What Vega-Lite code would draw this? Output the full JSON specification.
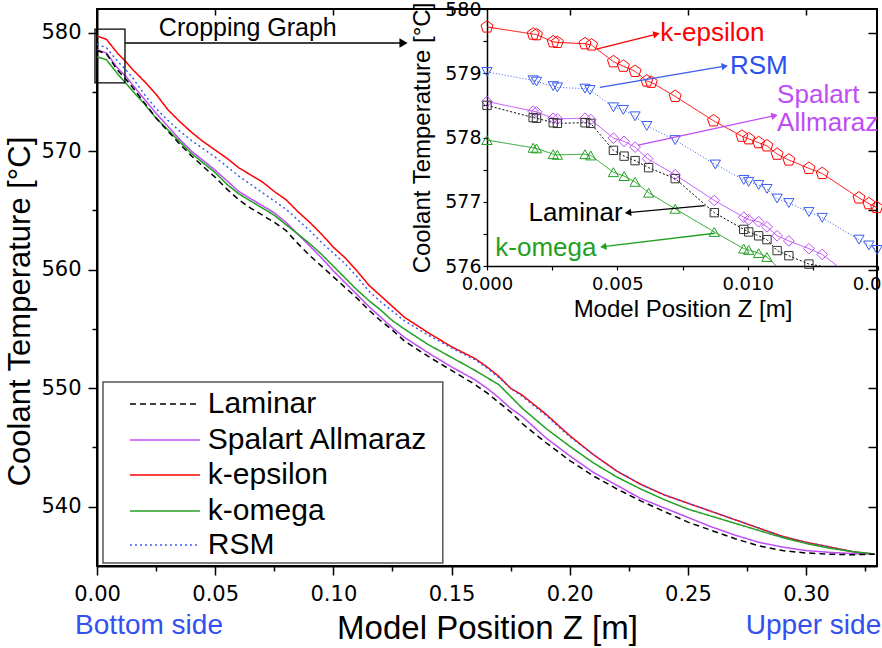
{
"$schema":"https://vega.github.io/schema/vega-lite/v6.json",
"width":780,"height":557,
"autosize":"none",
"padding":{"left":97,"top":9,"right":5,"bottom":82},
"config":{"view":{"stroke":"black","strokeWidth":2},"axis":{"domainColor":"black","tickColor":"black","labelColor":"black","titleColor":"black","grid":false,"labelFont":"DejaVu Sans","titleFont":"Liberation Sans","titleFontWeight":"normal"},"text":{"font":"Liberation Sans"}},
"datasets":{
"main":[
{"s":"k-epsilon","x":0,"y":579.72},{"s":"k-epsilon","x":0.004,"y":579.44},{"s":"k-epsilon","x":0.0087,"y":578.26},{"s":"k-epsilon","x":0.0124,"y":577.52},{"s":"k-epsilon","x":0.015,"y":576.91},{"s":"k-epsilon","x":0.02,"y":575.9},{"s":"k-epsilon","x":0.025,"y":574.8},{"s":"k-epsilon","x":0.03,"y":573.5},{"s":"k-epsilon","x":0.035,"y":572.5},{"s":"k-epsilon","x":0.04,"y":571.6},{"s":"k-epsilon","x":0.045,"y":570.8},{"s":"k-epsilon","x":0.05,"y":570.1},{"s":"k-epsilon","x":0.055,"y":569.4},{"s":"k-epsilon","x":0.06,"y":568.6},{"s":"k-epsilon","x":0.065,"y":568.0},{"s":"k-epsilon","x":0.07,"y":567.4},{"s":"k-epsilon","x":0.075,"y":566.6},{"s":"k-epsilon","x":0.08,"y":565.9},{"s":"k-epsilon","x":0.085,"y":564.9},{"s":"k-epsilon","x":0.09,"y":564.0},{"s":"k-epsilon","x":0.095,"y":563.0},{"s":"k-epsilon","x":0.1,"y":561.9},{"s":"k-epsilon","x":0.105,"y":561.0},{"s":"k-epsilon","x":0.11,"y":559.9},{"s":"k-epsilon","x":0.115,"y":558.7},{"s":"k-epsilon","x":0.12,"y":557.8},{"s":"k-epsilon","x":0.125,"y":556.9},{"s":"k-epsilon","x":0.13,"y":556.0},{"s":"k-epsilon","x":0.14,"y":554.7},{"s":"k-epsilon","x":0.15,"y":553.5},{"s":"k-epsilon","x":0.16,"y":552.5},{"s":"k-epsilon","x":0.165,"y":551.8},{"s":"k-epsilon","x":0.17,"y":551.0},{"s":"k-epsilon","x":0.175,"y":550.0},{"s":"k-epsilon","x":0.18,"y":549.4},{"s":"k-epsilon","x":0.19,"y":547.8},{"s":"k-epsilon","x":0.2,"y":546.0},{"s":"k-epsilon","x":0.21,"y":544.4},{"s":"k-epsilon","x":0.22,"y":543.0},{"s":"k-epsilon","x":0.23,"y":541.9},{"s":"k-epsilon","x":0.24,"y":541.0},{"s":"k-epsilon","x":0.25,"y":540.3},{"s":"k-epsilon","x":0.26,"y":539.6},{"s":"k-epsilon","x":0.27,"y":538.9},{"s":"k-epsilon","x":0.28,"y":538.2},{"s":"k-epsilon","x":0.29,"y":537.5},{"s":"k-epsilon","x":0.3,"y":537.0},{"s":"k-epsilon","x":0.31,"y":536.6},{"s":"k-epsilon","x":0.32,"y":536.2},{"s":"k-epsilon","x":0.329,"y":536.0},
{"s":"RSM","x":0,"y":579.02},{"s":"RSM","x":0.004,"y":578.74},{"s":"RSM","x":0.0087,"y":577.58},{"s":"RSM","x":0.0124,"y":576.84},{"s":"RSM","x":0.015,"y":576.22},{"s":"RSM","x":0.02,"y":574.8},{"s":"RSM","x":0.025,"y":573.6},{"s":"RSM","x":0.03,"y":572.6},{"s":"RSM","x":0.035,"y":571.7},{"s":"RSM","x":0.04,"y":570.9},{"s":"RSM","x":0.045,"y":570.2},{"s":"RSM","x":0.05,"y":569.5},{"s":"RSM","x":0.055,"y":568.7},{"s":"RSM","x":0.06,"y":567.9},{"s":"RSM","x":0.065,"y":567.2},{"s":"RSM","x":0.07,"y":566.5},{"s":"RSM","x":0.075,"y":565.8},{"s":"RSM","x":0.08,"y":565.1},{"s":"RSM","x":0.085,"y":564.2},{"s":"RSM","x":0.09,"y":563.3},{"s":"RSM","x":0.095,"y":562.3},{"s":"RSM","x":0.1,"y":561.4},{"s":"RSM","x":0.105,"y":560.5},{"s":"RSM","x":0.11,"y":559.4},{"s":"RSM","x":0.115,"y":558.2},{"s":"RSM","x":0.12,"y":557.3},{"s":"RSM","x":0.125,"y":556.5},{"s":"RSM","x":0.13,"y":555.7},{"s":"RSM","x":0.14,"y":554.5},{"s":"RSM","x":0.15,"y":553.4},{"s":"RSM","x":0.16,"y":552.4},{"s":"RSM","x":0.165,"y":551.7},{"s":"RSM","x":0.17,"y":550.9},{"s":"RSM","x":0.175,"y":550.0},{"s":"RSM","x":0.18,"y":549.3},{"s":"RSM","x":0.19,"y":547.7},{"s":"RSM","x":0.2,"y":545.9},{"s":"RSM","x":0.21,"y":544.4},{"s":"RSM","x":0.22,"y":543.0},{"s":"RSM","x":0.23,"y":541.9},{"s":"RSM","x":0.24,"y":541.0},{"s":"RSM","x":0.25,"y":540.3},{"s":"RSM","x":0.26,"y":539.6},{"s":"RSM","x":0.27,"y":538.9},{"s":"RSM","x":0.28,"y":538.2},{"s":"RSM","x":0.29,"y":537.5},{"s":"RSM","x":0.3,"y":537.0},{"s":"RSM","x":0.31,"y":536.6},{"s":"RSM","x":0.32,"y":536.2},{"s":"RSM","x":0.329,"y":536.0},
{"s":"Spalart Allmaraz","x":0,"y":578.56},{"s":"Spalart Allmaraz","x":0.004,"y":578.28},{"s":"Spalart Allmaraz","x":0.0087,"y":577.02},{"s":"Spalart Allmaraz","x":0.0124,"y":576.27},{"s":"Spalart Allmaraz","x":0.015,"y":575.6},{"s":"Spalart Allmaraz","x":0.02,"y":574.4},{"s":"Spalart Allmaraz","x":0.025,"y":573.2},{"s":"Spalart Allmaraz","x":0.03,"y":572.1},{"s":"Spalart Allmaraz","x":0.035,"y":571.0},{"s":"Spalart Allmaraz","x":0.04,"y":570.0},{"s":"Spalart Allmaraz","x":0.045,"y":569.2},{"s":"Spalart Allmaraz","x":0.05,"y":568.4},{"s":"Spalart Allmaraz","x":0.055,"y":567.5},{"s":"Spalart Allmaraz","x":0.06,"y":566.6},{"s":"Spalart Allmaraz","x":0.065,"y":566.0},{"s":"Spalart Allmaraz","x":0.07,"y":565.4},{"s":"Spalart Allmaraz","x":0.075,"y":564.8},{"s":"Spalart Allmaraz","x":0.08,"y":564.0},{"s":"Spalart Allmaraz","x":0.085,"y":563.0},{"s":"Spalart Allmaraz","x":0.09,"y":562.0},{"s":"Spalart Allmaraz","x":0.095,"y":561.0},{"s":"Spalart Allmaraz","x":0.1,"y":559.9},{"s":"Spalart Allmaraz","x":0.105,"y":558.9},{"s":"Spalart Allmaraz","x":0.11,"y":557.9},{"s":"Spalart Allmaraz","x":0.115,"y":556.9},{"s":"Spalart Allmaraz","x":0.12,"y":556.0},{"s":"Spalart Allmaraz","x":0.125,"y":555.1},{"s":"Spalart Allmaraz","x":0.13,"y":554.3},{"s":"Spalart Allmaraz","x":0.14,"y":553.0},{"s":"Spalart Allmaraz","x":0.15,"y":551.8},{"s":"Spalart Allmaraz","x":0.16,"y":550.7},{"s":"Spalart Allmaraz","x":0.165,"y":550.0},{"s":"Spalart Allmaraz","x":0.17,"y":549.2},{"s":"Spalart Allmaraz","x":0.175,"y":548.3},{"s":"Spalart Allmaraz","x":0.18,"y":547.6},{"s":"Spalart Allmaraz","x":0.19,"y":545.8},{"s":"Spalart Allmaraz","x":0.2,"y":544.3},{"s":"Spalart Allmaraz","x":0.21,"y":542.9},{"s":"Spalart Allmaraz","x":0.22,"y":541.8},{"s":"Spalart Allmaraz","x":0.23,"y":540.7},{"s":"Spalart Allmaraz","x":0.24,"y":539.9},{"s":"Spalart Allmaraz","x":0.25,"y":539.1},{"s":"Spalart Allmaraz","x":0.26,"y":538.3},{"s":"Spalart Allmaraz","x":0.27,"y":537.6},{"s":"Spalart Allmaraz","x":0.28,"y":537.0},{"s":"Spalart Allmaraz","x":0.29,"y":536.6},{"s":"Spalart Allmaraz","x":0.3,"y":536.3},{"s":"Spalart Allmaraz","x":0.31,"y":536.15},{"s":"Spalart Allmaraz","x":0.32,"y":536.05},{"s":"Spalart Allmaraz","x":0.329,"y":536.0},
{"s":"k-omega","x":0,"y":577.96},{"s":"k-omega","x":0.004,"y":577.72},{"s":"k-omega","x":0.0087,"y":576.53},{"s":"k-omega","x":0.0124,"y":575.7},{"s":"k-omega","x":0.015,"y":575.1},{"s":"k-omega","x":0.02,"y":574.0},{"s":"k-omega","x":0.025,"y":572.8},{"s":"k-omega","x":0.03,"y":571.8},{"s":"k-omega","x":0.035,"y":570.8},{"s":"k-omega","x":0.04,"y":569.8},{"s":"k-omega","x":0.045,"y":569.0},{"s":"k-omega","x":0.05,"y":568.2},{"s":"k-omega","x":0.055,"y":567.2},{"s":"k-omega","x":0.06,"y":566.4},{"s":"k-omega","x":0.065,"y":565.8},{"s":"k-omega","x":0.07,"y":565.2},{"s":"k-omega","x":0.075,"y":564.6},{"s":"k-omega","x":0.08,"y":563.8},{"s":"k-omega","x":0.085,"y":563.0},{"s":"k-omega","x":0.09,"y":562.2},{"s":"k-omega","x":0.095,"y":561.3},{"s":"k-omega","x":0.1,"y":560.3},{"s":"k-omega","x":0.105,"y":559.3},{"s":"k-omega","x":0.11,"y":558.3},{"s":"k-omega","x":0.115,"y":557.4},{"s":"k-omega","x":0.12,"y":556.6},{"s":"k-omega","x":0.125,"y":555.7},{"s":"k-omega","x":0.13,"y":555.0},{"s":"k-omega","x":0.14,"y":553.7},{"s":"k-omega","x":0.15,"y":552.6},{"s":"k-omega","x":0.16,"y":551.5},{"s":"k-omega","x":0.165,"y":550.9},{"s":"k-omega","x":0.17,"y":550.3},{"s":"k-omega","x":0.175,"y":549.3},{"s":"k-omega","x":0.18,"y":548.3},{"s":"k-omega","x":0.19,"y":546.6},{"s":"k-omega","x":0.2,"y":545.1},{"s":"k-omega","x":0.21,"y":543.7},{"s":"k-omega","x":0.22,"y":542.5},{"s":"k-omega","x":0.23,"y":541.5},{"s":"k-omega","x":0.24,"y":540.6},{"s":"k-omega","x":0.25,"y":539.8},{"s":"k-omega","x":0.26,"y":539.2},{"s":"k-omega","x":0.27,"y":538.6},{"s":"k-omega","x":0.28,"y":538.0},{"s":"k-omega","x":0.29,"y":537.4},{"s":"k-omega","x":0.3,"y":536.9},{"s":"k-omega","x":0.31,"y":536.5},{"s":"k-omega","x":0.32,"y":536.2},{"s":"k-omega","x":0.329,"y":536.0},
{"s":"Laminar","x":0,"y":578.5},{"s":"Laminar","x":0.004,"y":578.22},{"s":"Laminar","x":0.0087,"y":576.83},{"s":"Laminar","x":0.0124,"y":576.03},{"s":"Laminar","x":0.015,"y":575.4},{"s":"Laminar","x":0.02,"y":574.1},{"s":"Laminar","x":0.025,"y":572.8},{"s":"Laminar","x":0.03,"y":571.7},{"s":"Laminar","x":0.035,"y":570.6},{"s":"Laminar","x":0.04,"y":569.6},{"s":"Laminar","x":0.045,"y":568.7},{"s":"Laminar","x":0.05,"y":567.8},{"s":"Laminar","x":0.055,"y":566.8},{"s":"Laminar","x":0.06,"y":565.9},{"s":"Laminar","x":0.065,"y":565.2},{"s":"Laminar","x":0.07,"y":564.6},{"s":"Laminar","x":0.075,"y":564.0},{"s":"Laminar","x":0.08,"y":563.3},{"s":"Laminar","x":0.085,"y":562.2},{"s":"Laminar","x":0.09,"y":561.2},{"s":"Laminar","x":0.095,"y":560.3},{"s":"Laminar","x":0.1,"y":559.4},{"s":"Laminar","x":0.105,"y":558.5},{"s":"Laminar","x":0.11,"y":557.6},{"s":"Laminar","x":0.115,"y":556.6},{"s":"Laminar","x":0.12,"y":555.7},{"s":"Laminar","x":0.125,"y":554.9},{"s":"Laminar","x":0.13,"y":554.0},{"s":"Laminar","x":0.14,"y":552.7},{"s":"Laminar","x":0.15,"y":551.5},{"s":"Laminar","x":0.16,"y":550.3},{"s":"Laminar","x":0.165,"y":549.6},{"s":"Laminar","x":0.17,"y":548.8},{"s":"Laminar","x":0.175,"y":548.0},{"s":"Laminar","x":0.18,"y":547.0},{"s":"Laminar","x":0.19,"y":545.4},{"s":"Laminar","x":0.2,"y":543.9},{"s":"Laminar","x":0.21,"y":542.6},{"s":"Laminar","x":0.22,"y":541.5},{"s":"Laminar","x":0.23,"y":540.5},{"s":"Laminar","x":0.24,"y":539.6},{"s":"Laminar","x":0.25,"y":538.7},{"s":"Laminar","x":0.26,"y":538.0},{"s":"Laminar","x":0.27,"y":537.3},{"s":"Laminar","x":0.28,"y":536.7},{"s":"Laminar","x":0.29,"y":536.3},{"s":"Laminar","x":0.3,"y":536.1},{"s":"Laminar","x":0.31,"y":536.0},{"s":"Laminar","x":0.32,"y":535.95},{"s":"Laminar","x":0.329,"y":536.0}
],
"inset":[
{"s":"k-epsilon","x":0,"y":579.72},{"s":"k-epsilon","x":0.00177,"y":579.61},{"s":"k-epsilon","x":0.0019,"y":579.6},{"s":"k-epsilon","x":0.00254,"y":579.49},{"s":"k-epsilon","x":0.0027,"y":579.48},{"s":"k-epsilon","x":0.00376,"y":579.46},{"s":"k-epsilon","x":0.00401,"y":579.44},{"s":"k-epsilon","x":0.00485,"y":579.18},{"s":"k-epsilon","x":0.00523,"y":579.11},{"s":"k-epsilon","x":0.00568,"y":579.03},{"s":"k-epsilon","x":0.00613,"y":578.88},{"s":"k-epsilon","x":0.0063,"y":578.86},{"s":"k-epsilon","x":0.00722,"y":578.64},{"s":"k-epsilon","x":0.00869,"y":578.26},{"s":"k-epsilon","x":0.00978,"y":578.02},{"s":"k-epsilon","x":0.01004,"y":577.98},{"s":"k-epsilon","x":0.01042,"y":577.92},{"s":"k-epsilon","x":0.01074,"y":577.87},{"s":"k-epsilon","x":0.01113,"y":577.74},{"s":"k-epsilon","x":0.01158,"y":577.65},{"s":"k-epsilon","x":0.01235,"y":577.52},{"s":"k-epsilon","x":0.01286,"y":577.44},{"s":"k-epsilon","x":0.01427,"y":577.06},{"s":"k-epsilon","x":0.01465,"y":576.97},{"s":"k-epsilon","x":0.01495,"y":576.91},
{"s":"RSM","x":0,"y":579.02},{"s":"RSM","x":0.00177,"y":578.89},{"s":"RSM","x":0.0019,"y":578.87},{"s":"RSM","x":0.00254,"y":578.8},{"s":"RSM","x":0.0027,"y":578.78},{"s":"RSM","x":0.00376,"y":578.76},{"s":"RSM","x":0.00395,"y":578.74},{"s":"RSM","x":0.00485,"y":578.47},{"s":"RSM","x":0.00523,"y":578.43},{"s":"RSM","x":0.00568,"y":578.33},{"s":"RSM","x":0.00613,"y":578.18},{"s":"RSM","x":0.00722,"y":577.96},{"s":"RSM","x":0.00876,"y":577.58},{"s":"RSM","x":0.00985,"y":577.34},{"s":"RSM","x":0.01004,"y":577.31},{"s":"RSM","x":0.01042,"y":577.26},{"s":"RSM","x":0.01074,"y":577.2},{"s":"RSM","x":0.01113,"y":577.05},{"s":"RSM","x":0.01158,"y":576.98},{"s":"RSM","x":0.01235,"y":576.84},{"s":"RSM","x":0.01286,"y":576.75},{"s":"RSM","x":0.01427,"y":576.41},{"s":"RSM","x":0.01465,"y":576.32},{"s":"RSM","x":0.01497,"y":576.25},
{"s":"Spalart Allmaraz","x":0,"y":578.56},{"s":"Spalart Allmaraz","x":0.00177,"y":578.41},{"s":"Spalart Allmaraz","x":0.0019,"y":578.4},{"s":"Spalart Allmaraz","x":0.00254,"y":578.3},{"s":"Spalart Allmaraz","x":0.0027,"y":578.29},{"s":"Spalart Allmaraz","x":0.00376,"y":578.3},{"s":"Spalart Allmaraz","x":0.00398,"y":578.28},{"s":"Spalart Allmaraz","x":0.00485,"y":577.99},{"s":"Spalart Allmaraz","x":0.00526,"y":577.94},{"s":"Spalart Allmaraz","x":0.00568,"y":577.85},{"s":"Spalart Allmaraz","x":0.00616,"y":577.67},{"s":"Spalart Allmaraz","x":0.00722,"y":577.42},{"s":"Spalart Allmaraz","x":0.00872,"y":577.02},{"s":"Spalart Allmaraz","x":0.00985,"y":576.76},{"s":"Spalart Allmaraz","x":0.01004,"y":576.72},{"s":"Spalart Allmaraz","x":0.01042,"y":576.69},{"s":"Spalart Allmaraz","x":0.01074,"y":576.61},{"s":"Spalart Allmaraz","x":0.01113,"y":576.47},{"s":"Spalart Allmaraz","x":0.01158,"y":576.39},{"s":"Spalart Allmaraz","x":0.01235,"y":576.27},{"s":"Spalart Allmaraz","x":0.01286,"y":576.18},{"s":"Spalart Allmaraz","x":0.01344,"y":576.0},
{"s":"Laminar","x":0,"y":578.5},{"s":"Laminar","x":0.00177,"y":578.31},{"s":"Laminar","x":0.0019,"y":578.3},{"s":"Laminar","x":0.00254,"y":578.23},{"s":"Laminar","x":0.0027,"y":578.22},{"s":"Laminar","x":0.00376,"y":578.23},{"s":"Laminar","x":0.00398,"y":578.22},{"s":"Laminar","x":0.00485,"y":577.8},{"s":"Laminar","x":0.00526,"y":577.71},{"s":"Laminar","x":0.00568,"y":577.64},{"s":"Laminar","x":0.0062,"y":577.53},{"s":"Laminar","x":0.00722,"y":577.36},{"s":"Laminar","x":0.00872,"y":576.83},{"s":"Laminar","x":0.00985,"y":576.57},{"s":"Laminar","x":0.01004,"y":576.53},{"s":"Laminar","x":0.01042,"y":576.47},{"s":"Laminar","x":0.01074,"y":576.41},{"s":"Laminar","x":0.01113,"y":576.24},{"s":"Laminar","x":0.01158,"y":576.16},{"s":"Laminar","x":0.01235,"y":576.03},{"s":"Laminar","x":0.0128,"y":576.0},
{"s":"k-omega","x":0,"y":577.96},{"s":"k-omega","x":0.00177,"y":577.84},{"s":"k-omega","x":0.0019,"y":577.83},{"s":"k-omega","x":0.00254,"y":577.74},{"s":"k-omega","x":0.0027,"y":577.73},{"s":"k-omega","x":0.00376,"y":577.74},{"s":"k-omega","x":0.00398,"y":577.72},{"s":"k-omega","x":0.00485,"y":577.46},{"s":"k-omega","x":0.00526,"y":577.4},{"s":"k-omega","x":0.00568,"y":577.31},{"s":"k-omega","x":0.0062,"y":577.14},{"s":"k-omega","x":0.00722,"y":576.89},{"s":"k-omega","x":0.00872,"y":576.53},{"s":"k-omega","x":0.00985,"y":576.27},{"s":"k-omega","x":0.01004,"y":576.25},{"s":"k-omega","x":0.01042,"y":576.2},{"s":"k-omega","x":0.01074,"y":576.14},{"s":"k-omega","x":0.0111,"y":576.0}
],
"legend":[{"s":"Laminar","ly":548.67},{"s":"Spalart Allmaraz","ly":545.63},{"s":"k-epsilon","ly":542.68},{"s":"k-omega","ly":539.64},{"s":"RSM","ly":536.77}],
"arrows":[{"s":"k-epsilon","x":0.0042,"y":579.375,"x2":0.0065,"y2":579.61},{"s":"RSM","x":0.00433,"y":578.78,"x2":0.00912,"y2":579.11},{"s":"Spalart Allmaraz","x":0.0058,"y":577.88,"x2":0.01103,"y2":578.34},{"s":"Laminar","x":0.00835,"y":576.94,"x2":0.00541,"y2":576.83},{"s":"k-omega","x":0.00874,"y":576.51,"x2":0.00446,"y2":576.3}],
"labelsL":[{"s":"k-epsilon","t":"k-epsilon","x":0.00665,"y":579.63},{"s":"RSM","t":"RSM","x":0.00932,"y":579.11},{"s":"Spalart Allmaraz","t":"Spalart","x":0.01113,"y":578.66},{"s":"Spalart Allmaraz","t":"Allmaraz","x":0.01113,"y":578.23}],
"labelsR":[{"s":"Laminar","t":"Laminar","x":0.0052,"y":576.82},{"s":"k-omega","t":"k-omega","x":0.0042,"y":576.28}]
},
"layer":[
{"data":{"name":"main"},"mark":{"type":"line","strokeWidth":1.5},
 "encoding":{
  "x":{"field":"x","type":"quantitative","scale":{"domain":[0,0.33],"nice":false,"zero":false},
   "axis":{"orient":"bottom","values":[0,0.025,0.05,0.075,0.1,0.125,0.15,0.175,0.2,0.225,0.25,0.275,0.3,0.325],"labelExpr":"abs(datum.value*20-round(datum.value*20))>0.01 ? '' : format(datum.value,'.2f')","tickSize":{"condition":{"test":"abs(datum.value*20-round(datum.value*20))>0.01","value":5},"value":9},"tickWidth":1.5,"domainWidth":2,"labelFontSize":21,"labelPadding":8,"labelFlush":false,"labelOverlap":false,"title":"Model Position Z [m]","titleFontSize":33,"titlePadding":8}},
  "y":{"field":"y","type":"quantitative","scale":{"domain":[535,582],"nice":false,"zero":false},
   "axis":{"orient":"left","values":[540,545,550,555,560,565,570,575,580],"labelExpr":"datum.value % 10 == 0 ? format(datum.value,'d') : ''","tickSize":{"condition":{"test":"datum.value % 10 != 0","value":5},"value":9},"tickWidth":1.5,"domainWidth":2,"labelFontSize":21,"labelPadding":7,"labelOverlap":false,"title":"Coolant Temperature [°C]","titleFontSize":31,"titlePadding":4,"titleY":302}},
  "color":{"field":"s","type":"nominal","scale":{"domain":["Laminar","Spalart Allmaraz","k-epsilon","k-omega","RSM"],"range":["#000000","#c04cf7","#ff0000","#22a022","#3a5cf0"]},"legend":null},
  "strokeDash":{"field":"s","type":"nominal","scale":{"domain":["Laminar","Spalart Allmaraz","k-epsilon","k-omega","RSM"],"range":[[6,4],[1,0],[1,0],[1,0],[2,3]]},"legend":null},
  "detail":{"field":"s"}
 }},
{"data":{"values":[{}]},"mark":{"type":"rect","fill":"white","stroke":"#555555","strokeWidth":1.5},
 "encoding":{"x":{"datum":0.00254,"type":"quantitative","scale":{"domain":[0,0.33],"nice":false,"zero":false},"axis":null},"x2":{"datum":0.1463},
  "y":{"datum":550.52,"type":"quantitative","scale":{"domain":[535,582],"nice":false,"zero":false},"axis":null},"y2":{"datum":535.25}}},
{"data":{"name":"legend"},"mark":{"type":"rule","strokeWidth":1.5},
 "encoding":{"x":{"datum":0.01395,"type":"quantitative","scale":{"domain":[0,0.33],"nice":false,"zero":false},"axis":null},"x2":{"datum":0.04354},
  "y":{"field":"ly","type":"quantitative","scale":{"domain":[535,582],"nice":false,"zero":false},"axis":null},
  "color":{"field":"s","type":"nominal","scale":{"domain":["Laminar","Spalart Allmaraz","k-epsilon","k-omega","RSM"],"range":["#000000","#c04cf7","#ff0000","#22a022","#3a5cf0"]},"legend":null},
  "strokeDash":{"field":"s","type":"nominal","scale":{"domain":["Laminar","Spalart Allmaraz","k-epsilon","k-omega","RSM"],"range":[[6,4],[1,0],[1,0],[1,0],[2,3]]},"legend":null}}},
{"data":{"name":"legend"},"mark":{"type":"text","align":"left","baseline":"middle","fontSize":30,"color":"black"},
 "encoding":{"x":{"datum":0.0469,"type":"quantitative","scale":{"domain":[0,0.33],"nice":false,"zero":false},"axis":null},
  "y":{"field":"ly","type":"quantitative","scale":{"domain":[535,582],"nice":false,"zero":false},"axis":null},
  "text":{"field":"s"}}},
{"data":{"values":[{}]},"mark":{"type":"rect","fillOpacity":0,"stroke":"black","strokeWidth":1.3},
 "encoding":{"x":{"datum":-0.00085,"type":"quantitative","scale":{"domain":[0,0.33],"nice":false,"zero":false},"axis":null},"x2":{"datum":0.01184},
  "y":{"datum":580.31,"type":"quantitative","scale":{"domain":[535,582],"nice":false,"zero":false},"axis":null},"y2":{"datum":575.76}}},
{"data":{"values":[{}]},"mark":{"type":"rule","stroke":"black","strokeWidth":1.3},
 "encoding":{"x":{"datum":0.01184,"type":"quantitative","scale":{"domain":[0,0.33],"nice":false,"zero":false},"axis":null},"x2":{"datum":0.1295},
  "y":{"datum":579.13,"type":"quantitative","scale":{"domain":[535,582],"nice":false,"zero":false},"axis":null}}},
{"data":{"values":[{}]},"mark":{"type":"point","shape":"triangle-right","filled":true,"color":"black","size":90,"opacity":1},
 "encoding":{"x":{"datum":0.1297,"type":"quantitative","scale":{"domain":[0,0.33],"nice":false,"zero":false},"axis":null},
  "y":{"datum":579.13,"type":"quantitative","scale":{"domain":[535,582],"nice":false,"zero":false},"axis":null}}},
{"data":{"values":[{}]},"mark":{"type":"text","text":"Cropping Graph","align":"center","baseline":"middle","fontSize":25,"color":"black"},
 "encoding":{"x":{"datum":0.0638,"type":"quantitative","scale":{"domain":[0,0.33],"nice":false,"zero":false},
   "axis":{"orient":"top","values":[0.05,0.1,0.15,0.2,0.25,0.3],"tickSize":-6,"tickWidth":1.5,"labels":false,"domain":false,"title":null}},
  "y":{"datum":580.4,"type":"quantitative","scale":{"domain":[535,582],"nice":false,"zero":false},
   "axis":{"orient":"right","values":[540,545,550,555,560,565,570,575,580],"tickSize":-9,"tickWidth":1.5,"labels":false,"domain":false,"title":null}}}},
{"data":{"values":[{}]},"mark":{"type":"text","text":"Bottom side","align":"right","baseline":"middle","fontSize":28,"color":"#3350f0"},
 "encoding":{"x":{"datum":0.0533,"type":"quantitative","scale":{"domain":[0,0.33],"nice":false,"zero":false},"axis":null},
  "y":{"datum":529.93,"type":"quantitative","scale":{"domain":[535,582],"nice":false,"zero":false},"axis":null}}},
{"data":{"values":[{}]},"mark":{"type":"text","text":"Upper side","align":"left","baseline":"middle","fontSize":28,"color":"#3350f0"},
 "encoding":{"x":{"datum":0.2745,"type":"quantitative","scale":{"domain":[0,0.33],"nice":false,"zero":false},"axis":null},
  "y":{"datum":529.93,"type":"quantitative","scale":{"domain":[535,582],"nice":false,"zero":false},"axis":null}}},
{"data":{"name":"inset"},"mark":{"type":"line","strokeWidth":1},
 "encoding":{
  "x":{"field":"x","type":"quantitative","scale":{"domain":[0,0.015],"range":[390,781],"nice":false,"zero":false},
   "axis":{"orient":"bottom","offset":-300,"values":[0,0.0025,0.005,0.0075,0.01,0.0125,0.015],"labelExpr":"abs(datum.value*200-round(datum.value*200))>0.01 ? '' : format(datum.value,'.3f')","tickSize":4,"tickWidth":1.2,"domainWidth":1.5,"labelFontSize":18,"labelPadding":5,"labelFlush":false,"labelOverlap":false,"title":"Model Position Z [m]","titleFontSize":24,"titlePadding":4}},
  "y":{"field":"y","type":"quantitative","scale":{"domain":[576,580],"range":[257,0],"nice":false,"zero":false},
   "axis":{"orient":"left","offset":-390,"values":[576,576.5,577,577.5,578,578.5,579,579.5,580],"labelExpr":"datum.value % 1 == 0 ? format(datum.value,'d') : ''","tickSize":4,"tickWidth":1.2,"domainWidth":1.5,"labelFontSize":19,"labelPadding":2,"labelOverlap":false,"title":"Coolant Temperature [°C]","titleFontSize":24,"titlePadding":10}},
  "color":{"field":"s","type":"nominal","scale":{"domain":["Laminar","Spalart Allmaraz","k-epsilon","k-omega","RSM"],"range":["#000000","#c04cf7","#ff0000","#22a022","#3a5cf0"]},"legend":null},
  "strokeDash":{"field":"s","type":"nominal","scale":{"domain":["Laminar","Spalart Allmaraz","k-epsilon","k-omega","RSM"],"range":[[2,2],[1,0],[1,0],[1,0],[1,2]]},"legend":null},
  "detail":{"field":"s"}
 }},
{"data":{"name":"inset"},"transform":[{"filter":"datum.y > 576.02"}],"mark":{"type":"point","filled":false,"strokeWidth":1,"opacity":1},
 "encoding":{
  "x":{"field":"x","type":"quantitative","scale":{"domain":[0,0.015],"range":[390,781],"nice":false,"zero":false},"axis":null},
  "y":{"field":"y","type":"quantitative","scale":{"domain":[576,580],"range":[257,0],"nice":false,"zero":false},"axis":null},
  "color":{"field":"s","type":"nominal","scale":{"domain":["Laminar","Spalart Allmaraz","k-epsilon","k-omega","RSM"],"range":["#333333","#c04cf7","#ff0000","#22a022","#3a5cf0"]},"legend":null},
  "shape":{"field":"s","type":"nominal","scale":{"domain":["Laminar","Spalart Allmaraz","k-epsilon","k-omega","RSM"],"range":["square","diamond","M0,-1L0.951,-0.309L0.588,0.809L-0.588,0.809L-0.951,-0.309Z","triangle-up","triangle-down"]},"legend":null},
  "size":{"field":"s","type":"nominal","scale":{"type":"ordinal","domain":["Laminar","Spalart Allmaraz","k-epsilon","k-omega","RSM"],"range":[70,115,160,105,105]},"legend":null}
 }},
{"data":{"name":"arrows"},"mark":{"type":"rule","strokeWidth":1.3},
 "encoding":{
  "x":{"field":"x","type":"quantitative","scale":{"domain":[0,0.015],"range":[390,781],"nice":false,"zero":false},"axis":null},"x2":{"field":"x2"},
  "y":{"field":"y","type":"quantitative","scale":{"domain":[576,580],"range":[257,0],"nice":false,"zero":false},"axis":null},"y2":{"field":"y2"},
  "color":{"field":"s","type":"nominal","scale":{"domain":["Laminar","Spalart Allmaraz","k-epsilon","k-omega","RSM"],"range":["#000000","#c04cf7","#ff0000","#22a022","#3a5cf0"]},"legend":null}
 }},
{"data":{"name":"arrows"},"mark":{"type":"point","shape":"triangle-right","filled":true,"size":55,"opacity":1},
 "encoding":{
  "x":{"field":"x2","type":"quantitative","scale":{"domain":[0,0.015],"range":[390,781],"nice":false,"zero":false},"axis":null},
  "y":{"field":"y2","type":"quantitative","scale":{"domain":[576,580],"range":[257,0],"nice":false,"zero":false},"axis":null},
  "color":{"field":"s","type":"nominal","scale":{"domain":["Laminar","Spalart Allmaraz","k-epsilon","k-omega","RSM"],"range":["#000000","#c04cf7","#ff0000","#22a022","#3a5cf0"]},"legend":null},
  "angle":{"field":"s","type":"nominal","scale":{"type":"ordinal","domain":["Laminar","Spalart Allmaraz","k-epsilon","k-omega","RSM"],"range":[174.7,347.8,345.9,173.1,350.4]},"legend":null}
 }},
{"data":{"name":"labelsL"},"mark":{"type":"text","align":"left","baseline":"middle","fontSize":26},
 "encoding":{
  "x":{"field":"x","type":"quantitative","scale":{"domain":[0,0.015],"range":[390,781],"nice":false,"zero":false},"axis":null},
  "y":{"field":"y","type":"quantitative","scale":{"domain":[576,580],"range":[257,0],"nice":false,"zero":false},"axis":null},
  "text":{"field":"t"},
  "color":{"field":"s","type":"nominal","scale":{"domain":["Laminar","Spalart Allmaraz","k-epsilon","k-omega","RSM"],"range":["#000000","#c04cf7","#ff0000","#22a022","#2a50ee"]},"legend":null}
 }},
{"data":{"name":"labelsR"},"mark":{"type":"text","align":"right","baseline":"middle","fontSize":26},
 "encoding":{
  "x":{"field":"x","type":"quantitative","scale":{"domain":[0,0.015],"range":[390,781],"nice":false,"zero":false},"axis":null},
  "y":{"field":"y","type":"quantitative","scale":{"domain":[576,580],"range":[257,0],"nice":false,"zero":false},"axis":null},
  "text":{"field":"t"},
  "color":{"field":"s","type":"nominal","scale":{"domain":["Laminar","Spalart Allmaraz","k-epsilon","k-omega","RSM"],"range":["#000000","#c04cf7","#ff0000","#22a022","#2a50ee"]},"legend":null}
 }}
],
"resolve":{"scale":{"x":"independent","y":"independent","color":"independent","strokeDash":"independent","shape":"independent","angle":"independent","size":"independent"}}
}
